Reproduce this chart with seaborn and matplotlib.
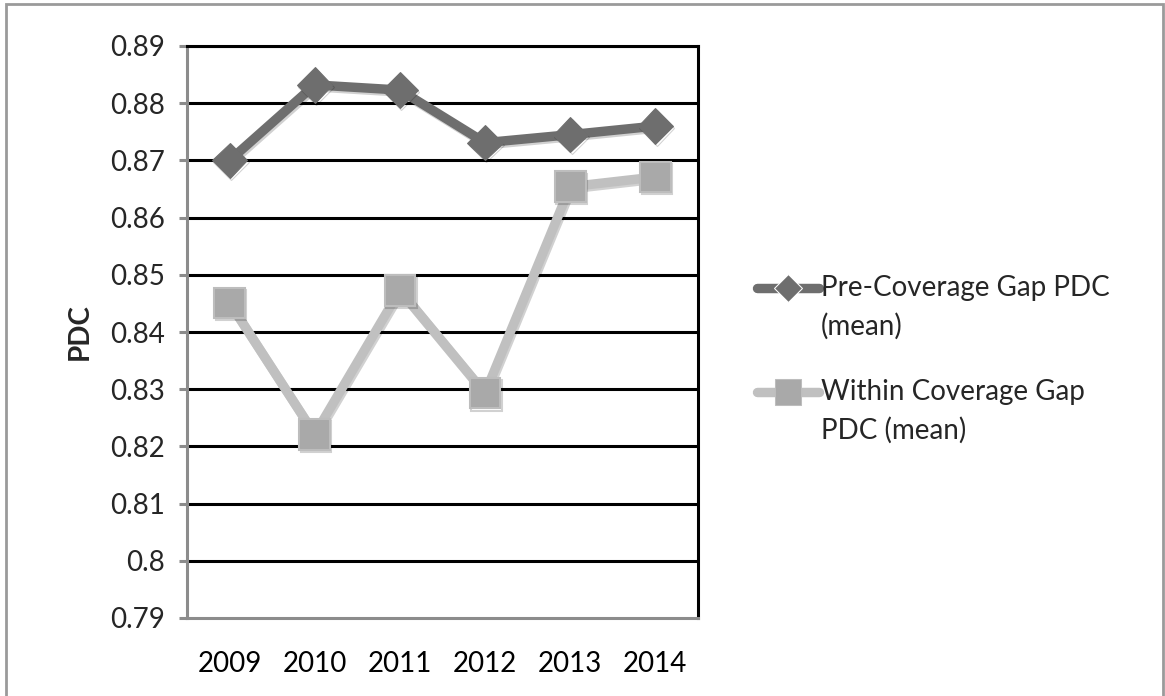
import matplotlib
matplotlib.use("Agg")
import matplotlib.pyplot as plt
import matplotlib.patheffects as pe
from matplotlib.patches import Rectangle
from matplotlib.ticker import FixedLocator, NullFormatter
import pandas as pd
import seaborn as sns

# Yearly mean PDC values
years = ["2009", "2010", "2011", "2012", "2013", "2014"]
pre_gap = [0.870, 0.8832, 0.8823, 0.8731, 0.8745, 0.8760]
within_gap = [0.8451, 0.8221, 0.8473, 0.8293, 0.8654, 0.8671]
series_names = ["Pre-Coverage Gap PDC\n(mean)", "Within Coverage Gap\nPDC (mean)"]
y_ticks = [0.79, 0.80, 0.81, 0.82, 0.83, 0.84, 0.85, 0.86, 0.87, 0.88, 0.89]
y_tick_labels = ["0.79", "0.8", "0.81", "0.82", "0.83", "0.84", "0.85",
                 "0.86", "0.87", "0.88", "0.89"]

df = pd.DataFrame({
    "Year": years * 2,
    "PDC": pre_gap + within_gap,
    "Series": [series_names[0]] * len(years) + [series_names[1]] * len(years),
})

sns.set_theme(style="white")
plt.rcParams["font.family"] = ["Lato", "DejaVu Sans"]
FS = 20

fig = plt.figure(figsize=(11.65, 6.96), dpi=100)
ax = fig.add_axes([187 / 1165, 1 - 618 / 696, (698 - 187) / 1165, (618 - 46) / 696])

shadow = [pe.SimpleLineShadow(offset=(1.0, -1.5), shadow_color="#000000", alpha=0.18), pe.Normal()]

sns.lineplot(
    data=df, x="Year", y="PDC", hue="Series", style="Series",
    palette={series_names[0]: "#6e6e6e", series_names[1]: "#c0c0c0"},
    markers={series_names[0]: "D", series_names[1]: "s"},
    dashes=False, linewidth=6.8, ax=ax, sort=False, legend=True,
)

# Marker styling per series
lines = ax.get_lines()
lines[0].set_markersize(18)
lines[0].set_markerfacecolor("#6e6e6e")
lines[0].set_markeredgecolor("#6e6e6e")
lines[1].set_markersize(22)
lines[1].set_markerfacecolor("#a9a9a9")
lines[1].set_markeredgecolor("#bdbdbd")
lines[1].set_markeredgewidth(1.5)
for ln in lines[:2]:
    ln.set_path_effects(shadow)

ax.set_xlim(-0.5, 5.5)
ax.set_ylim(0.79, 0.89)

# Horizontal gridlines
ax.set_yticks(y_ticks)
ax.set_yticklabels(y_tick_labels)
for v in y_ticks[1:]:
    ax.axhline(v, color="black", linewidth=2.2, zorder=0.5)

# Category labels at centers, tick marks at category boundaries
ax.set_xticks(range(len(years)))
ax.set_xticklabels(years)
ax.xaxis.set_minor_locator(FixedLocator([i - 0.5 for i in range(len(years) + 1)]))
ax.xaxis.set_minor_formatter(NullFormatter())
ax.tick_params(axis="x", which="major", length=0, pad=24, labelsize=FS, colors="black")
ax.tick_params(axis="x", which="minor", length=6, width=2.2, color="#8c8c8c", direction="out")
ax.tick_params(axis="y", which="major", length=6, width=2.2, color="#8c8c8c",
               direction="out", labelsize=FS, pad=10, left=True)

for side in ["left", "bottom"]:
    ax.spines[side].set_color("#8c8c8c")
    ax.spines[side].set_linewidth(2.2)
ax.spines["right"].set_color("black")
ax.spines["right"].set_linewidth(2.2)
ax.spines["top"].set_color("black")
ax.spines["top"].set_linewidth(2.2)

ax.set_xlabel("")
ax.set_ylabel("PDC", fontsize=FS, fontweight="bold", labelpad=12)

# Legend to the right of the plot
handles, labels = ax.get_legend_handles_labels()
leg = ax.legend(handles, labels, loc="upper left", bbox_to_anchor=(743 / 1165, 1 - 261 / 696),
                bbox_transform=fig.transFigure, frameon=False, fontsize=FS,
                handlelength=2.25, handletextpad=0.05, labelspacing=1.4, borderpad=0)
for t in leg.get_texts():
    t.set_linespacing(1.55)
for h in leg.legend_handles:
    h.set_linewidth(6.8)
    # align the key with the first line of its two-line label
    h.set_ydata([y + 14.5 for y in h.get_ydata()])
leg.legend_handles[0].set_markersize(14)
leg.legend_handles[1].set_markersize(19)
leg.legend_handles[1].set_markerfacecolor("#a9a9a9")
leg.legend_handles[1].set_markeredgecolor("#bdbdbd")

# Outer chart border
fig.patches.append(Rectangle((6 / 1165, -0.05), (1163 - 6) / 1165, 1 - 4 / 696 + 0.05,
                             transform=fig.transFigure, fill=False,
                             edgecolor="#9a9a9a", linewidth=2.0))

fig.savefig("out.png", dpi=100)
